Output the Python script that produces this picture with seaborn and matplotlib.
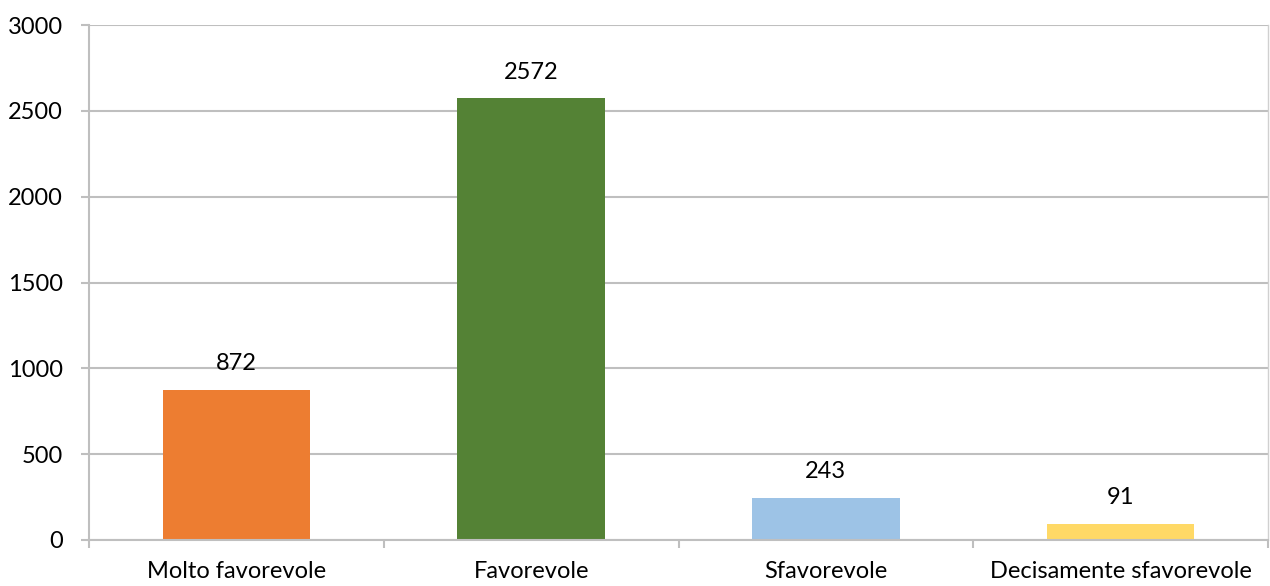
import matplotlib
matplotlib.use("Agg")
import matplotlib.pyplot as plt
import seaborn as sns
import pandas as pd
from matplotlib.ticker import FixedLocator

categories = ["Molto favorevole", "Favorevole", "Sfavorevole", "Decisamente sfavorevole"]
values = [872, 2572, 243, 91]
colors = ["#ED7D31", "#548235", "#9DC3E6", "#FFD966"]
yticks = [0, 500, 1000, 1500, 2000, 2500, 3000]

sns.set_theme(style="white")
plt.rcParams["font.family"] = ["Lato", "DejaVu Sans"]

df = pd.DataFrame({"cat": categories, "val": values})

fig = plt.figure(figsize=(12.7, 5.86), dpi=100)
ax = fig.add_axes([89/1270, 46/586, (1268-89)/1270, 515/586])

sns.barplot(data=df, x="cat", y="val", hue="cat", palette=colors, legend=False,
            width=0.5, saturation=1, linewidth=0, ax=ax)

ax.set_ylim(0, 3000)
ax.set_xlim(-0.5, len(categories) - 0.5)
ax.set_yticks(yticks)
ax.yaxis.grid(True, color="#BFBFBF", linewidth=1.5)
ax.set_axisbelow(True)
ax.set_xlabel("")
ax.set_ylabel("")

ax.spines["top"].set_visible(False)
ax.spines["left"].set_color("#BFBFBF")
ax.spines["left"].set_linewidth(1.5)
ax.spines["bottom"].set_color("#BFBFBF")
ax.spines["bottom"].set_linewidth(1.5)
ax.spines["right"].set_color("#D0D0D0")
ax.spines["right"].set_linewidth(1.0)

fs = 17
ax.tick_params(axis="y", which="major", left=True, length=6, width=1.5, color="#BFBFBF",
               labelsize=fs, labelcolor="black", pad=13)
ax.tick_params(axis="x", which="major", bottom=False, labelsize=fs, labelcolor="black", pad=9)
ax.xaxis.set_minor_locator(FixedLocator([i - 0.5 for i in range(len(categories) + 1)]))
ax.tick_params(axis="x", which="minor", bottom=True, length=6, width=1.5, color="#BFBFBF")

for i, v in enumerate(values):
    ax.annotate(str(v), (i, v), xytext=(0, 19), textcoords="offset points",
                ha="center", va="center", fontsize=fs, color="black")

fig.savefig("out.png", dpi=100)
